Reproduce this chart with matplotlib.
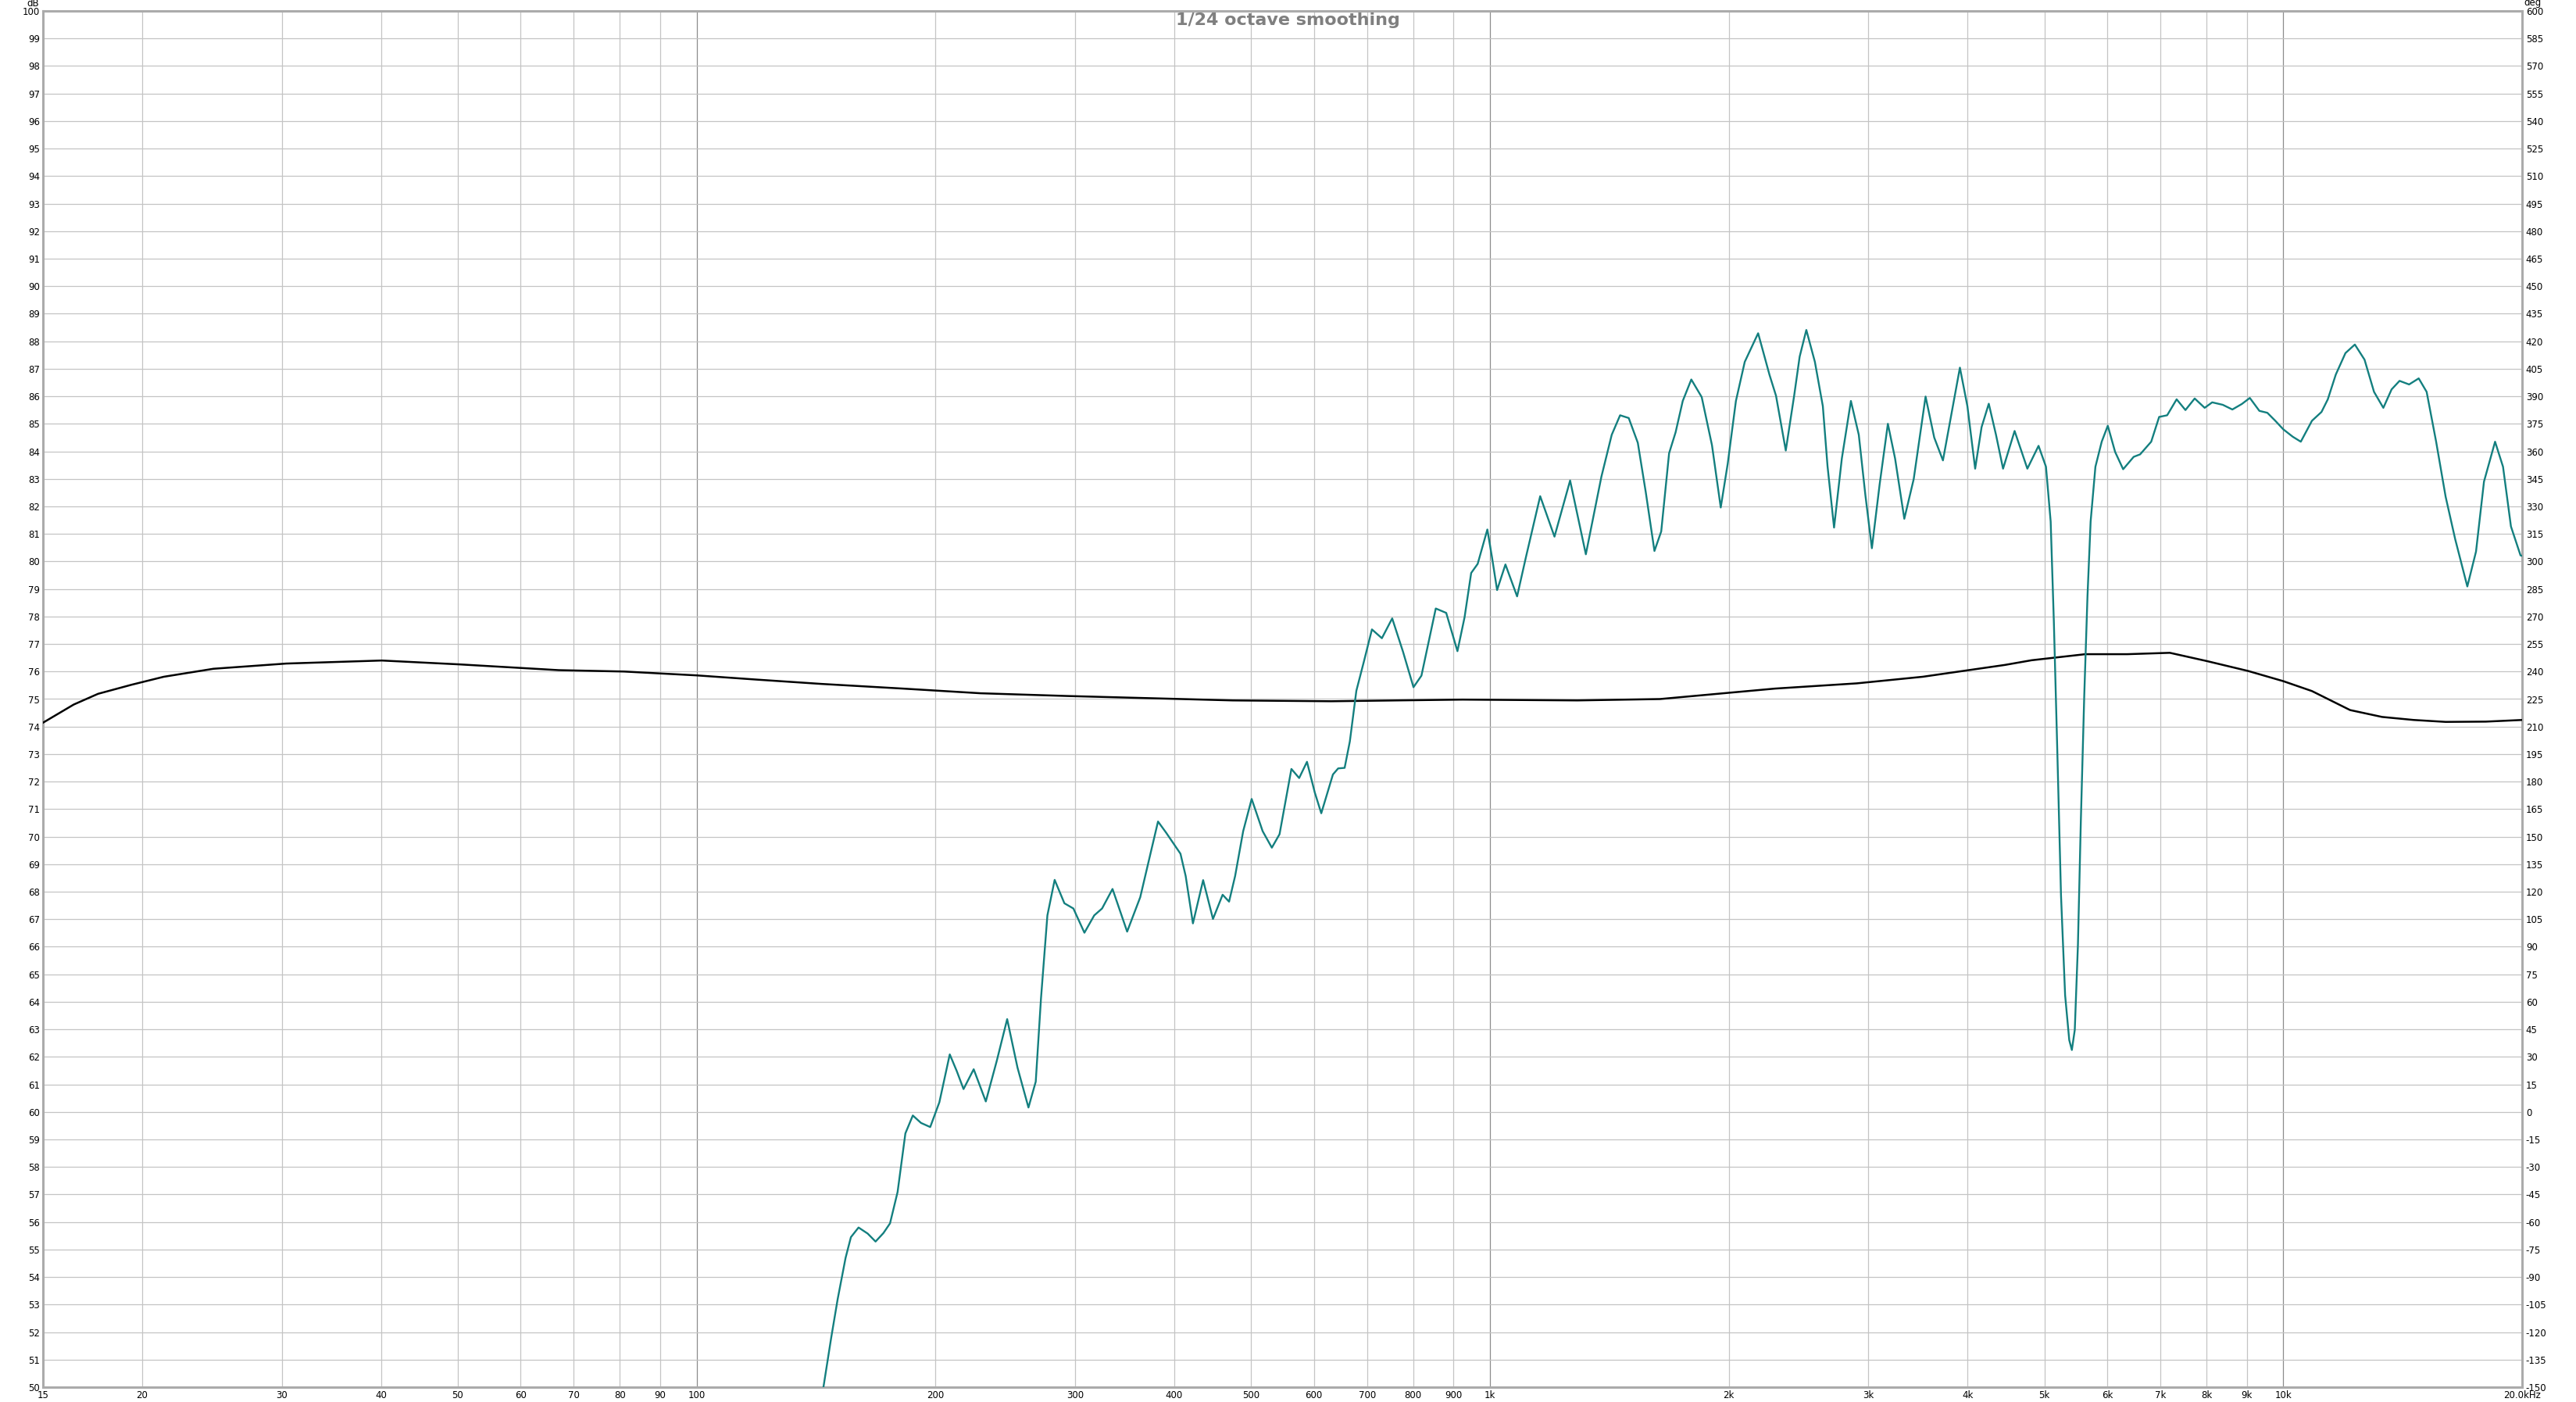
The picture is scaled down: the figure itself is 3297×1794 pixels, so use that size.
import numpy as np
import matplotlib.pyplot as plt

# measured response (teal), frequency in Hz and level in dB
resp_freq = [142, 144.5, 147.8, 150.6, 154.1, 156.5, 160.0, 164.3, 168.1, 172, 175.3, 179.2, 183.3, 187.3,
             191.8, 197.0, 202.3, 208.5, 212.8, 217.0, 223.5, 231.5, 239.0, 246.3, 253.8, 262.0, 267.6,
             271.7, 276.8, 282.7, 290.8, 298.5, 308.2, 317.1, 324.4, 334.4, 348.9, 362.4, 381.6, 390.8,
             407.3, 413.5, 422.3, 435.0, 447.6, 460.3, 469.0, 477.3, 488.6, 500.8, 517.0, 531.0, 543.0,
             562.0, 574.8, 588.0, 601.4, 612.9, 634.0, 643.7, 655.9, 665.9, 678.6, 694.0, 710.0, 730.8,
             753.0, 777.0, 801.0, 819.7, 854.5, 880.8, 910, 929, 947, 965, 992.5, 1006, 1021, 1046, 1082,
             1110, 1157, 1206, 1262, 1321, 1382, 1424, 1459, 1496, 1536, 1572, 1612, 1644, 1682, 1714,
             1750, 1794, 1849, 1905, 1954, 1994, 2042, 2095, 2178, 2251, 2294, 2360, 2418, 2457, 2505,
             2568, 2628, 2664, 2715, 2777, 2851, 2917, 2973, 3030, 3099, 3174, 3241, 3329, 3421, 3541,
             3631, 3724, 3817, 3912, 3998, 4089, 4166, 4254, 4344, 4434, 4585, 4758, 4915, 5022, 5091,
             5138, 5188, 5246, 5309, 5373, 5414, 5460, 5510, 5557, 5612, 5665, 5717, 5797, 5904, 6009,
             6138, 6283, 6478, 6600, 6816, 6975, 7139, 7338, 7528, 7733, 7960, 8136, 8390, 8626, 8867,
             9075, 9330, 9548, 9771, 10000, 10280, 10522, 10868, 11173, 11380, 11647, 11978, 12309,
             12660, 13014, 13370, 13694, 14014, 14408, 14816, 15161, 15584, 16020, 16470, 17061, 17497,
             17906, 18492, 18923, 19364, 19909, 20000]
resp_db = [49.3, 50.0, 51.8, 53.2, 54.7, 55.45, 55.8, 55.58, 55.29, 55.6, 55.95, 57.09, 59.22, 59.87,
           59.60, 59.45, 60.35, 62.09, 61.48, 60.83, 61.55, 60.38, 61.86, 63.37, 61.61, 60.16, 61.1,
           64.12, 67.14, 68.43, 67.58, 67.39, 66.51, 67.14, 67.39, 68.10, 66.55, 67.80, 70.55, 70.14,
           69.38, 68.57, 66.85, 68.42, 67.01, 67.89, 67.64, 68.57, 70.20, 71.37, 70.20, 69.60, 70.09,
           72.46, 72.13, 72.72, 71.61, 70.85, 72.26, 72.48, 72.50, 73.46, 75.30, 76.39, 77.53, 77.21,
           77.93, 76.72, 75.43, 75.85, 78.29, 78.13, 76.74, 77.97, 79.58, 79.91, 81.16, 80.15, 78.96,
           79.89, 78.73, 80.15, 82.37, 80.90, 82.94, 80.26, 83.08, 84.60, 85.31, 85.21, 84.31, 82.51,
           80.38, 81.09, 83.93, 84.69, 85.83, 86.61, 85.97, 84.22, 81.96, 83.55, 85.83, 87.25, 88.29,
           86.78, 86.02, 84.03, 86.02, 87.44, 88.41, 87.25, 85.64, 83.46, 81.23, 83.74, 85.83, 84.60,
           82.42, 80.48, 82.80, 85.00, 83.74, 81.55, 82.99, 85.99, 84.50, 83.67, 85.35, 87.04, 85.64,
           83.37, 84.88, 85.73, 84.60, 83.37, 84.74, 83.37, 84.20, 83.44, 81.45, 77.83, 73.30, 67.87,
           64.24, 62.61, 62.25, 62.98, 66.06, 70.58, 75.11, 78.73, 81.45, 83.44, 84.35, 84.93, 83.98,
           83.35, 83.80, 83.89, 84.35, 85.25, 85.31, 85.89, 85.50, 85.92, 85.58, 85.78, 85.69, 85.52,
           85.72, 85.94, 85.47, 85.40, 85.11, 84.80, 84.53, 84.35, 85.11, 85.43, 85.89, 86.79, 87.57,
           87.88, 87.33, 86.16, 85.58, 86.25, 86.56, 86.43, 86.65, 86.16, 84.35, 82.35, 80.81, 79.09,
           80.36, 82.90, 84.35, 83.44, 81.27, 80.22, 80.2]

# second trace (black)
ref_freq = [15, 16.4, 17.6, 19.4, 21.3, 24.6, 30.4, 40.1, 50.2, 67, 81, 100, 118.6, 143.6, 182, 228,
            294, 374, 474, 631, 923, 1289, 1638, 2287, 2900, 3512, 4459, 4818, 5630, 6360, 7195, 8010,
            9030, 10000, 10868, 12140, 13320, 14600, 16020, 18000, 20000]
ref_db = [74.14, 74.8, 75.19, 75.52, 75.81, 76.10, 76.29, 76.40, 76.26, 76.05, 76.0, 75.86, 75.71,
          75.55, 75.38, 75.21, 75.11, 75.03, 74.95, 74.92, 74.98, 74.95, 75.0, 75.38, 75.57, 75.81,
          76.24, 76.41, 76.63, 76.63, 76.68, 76.38, 76.02, 75.65, 75.29, 74.60, 74.35, 74.24, 74.17,
          74.18, 74.24]

xticks = [15, 20, 30, 40, 50, 60, 70, 80, 90, 100, 200, 300, 400, 500, 600, 700, 800, 900,
          1000, 2000, 3000, 4000, 5000, 6000, 7000, 8000, 9000, 10000, 20000]
xlabels = ['15', '20', '30', '40', '50', '60', '70', '80', '90', '100', '200', '300', '400', '500',
           '600', '700', '800', '900', '1k', '2k', '3k', '4k', '5k', '6k', '7k', '8k', '9k', '10k',
           '20.0kHz']
db_ticks = list(range(50, 101))
deg_ticks = list(range(-150, 601, 15))

W, H = 3298, 1794
fig = plt.figure(figsize=(W / 100, H / 100), dpi=100)
x0, x1, y0, y1 = 55, 3228, 14, 1775
ax = fig.add_axes([x0 / W, 1 - y1 / H, (x1 - x0) / W, (y1 - y0) / H])

ax.set_xscale('log')
ax.set_xlim(15, 20000)
ax.set_ylim(50, 100)

ax.plot(ref_freq, ref_db, color='black', lw=1.8, zorder=3,
        solid_joinstyle='round', solid_capstyle='round')
ax.plot(resp_freq, resp_db, color='#137f7f', lw=1.7, zorder=4,
        solid_joinstyle='round', solid_capstyle='round')

ax.set_xticks(xticks)
ax.set_xticklabels(xlabels)
ax.xaxis.set_minor_locator(plt.NullLocator())
ax.set_yticks(db_ticks)
ax.set_yticklabels([str(v) for v in db_ticks])
ax.tick_params(axis='both', length=0, labelsize=8.5, colors='black')
ax.tick_params(axis='x', pad=3)
ax.tick_params(axis='y', pad=3)
ax.grid(True, color='#c4c4c4', lw=0.9)
for t, gl in zip(xticks, ax.get_xgridlines()):
    if t in (100, 1000, 10000):
        gl.set_color('#8c8c8c')
ax.set_axisbelow(True)

for s in ax.spines.values():
    s.set_color('#ababab')
    s.set_linewidth(2.2)

ax2 = ax.twinx()
ax2.set_ylim(-150, 600)
ax2.set_yticks(deg_ticks)
ax2.set_yticklabels([str(v) for v in deg_ticks])
ax2.tick_params(axis='y', length=0, labelsize=8.5, pad=3.5)
for s in ax2.spines.values():
    s.set_visible(False)

fig.text(50 / W, 1 - 8.5 / H, 'dB', ha='right', va='baseline', fontsize=8.5)
fig.text(3230 / W, 1 - 7.5 / H, 'deg', ha='left', va='baseline', fontsize=8.5)
fig.text(1648 / W, 1 - 31.5 / H, '1/24 octave smoothing', ha='center', va='baseline',
         fontsize=16, fontweight='bold', color='#7f7f7f')

fig.savefig('out.png', dpi=100)
